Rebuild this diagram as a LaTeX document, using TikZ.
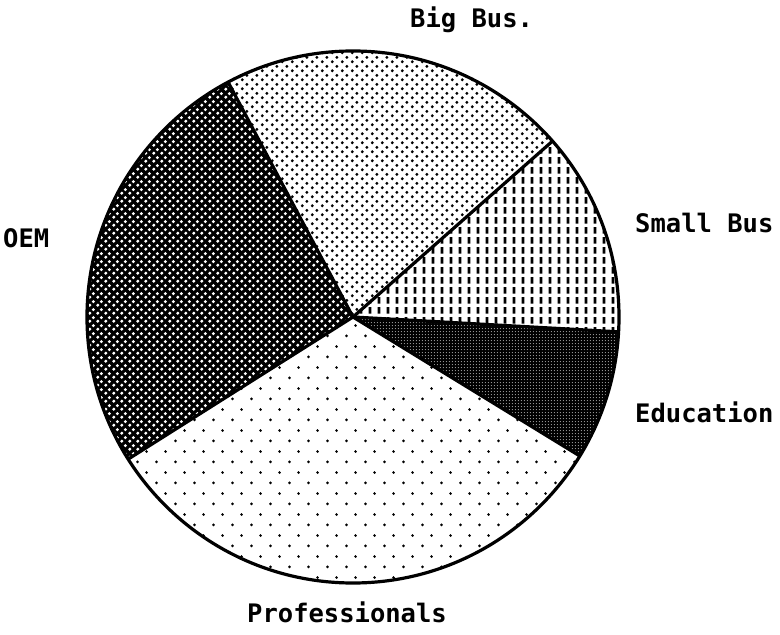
\documentclass[tikz,border=0pt]{standalone}
\usepackage{fontspec}
\setmonofont{DejaVu Sans Mono}
\usetikzlibrary{patterns}
\pgfdeclarepatternformonly{bigbusdots}{\pgfpointorigin}{\pgfqpoint{10pt}{9.4pt}}{\pgfqpoint{10pt}{9.4pt}}{
  \pgfpathcircle{\pgfqpoint{2.5pt}{2.35pt}}{1.7pt}
  \pgfpathcircle{\pgfqpoint{7.5pt}{7.05pt}}{1.7pt}
  \pgfusepath{fill}}
\pgfdeclarepatternformonly{profdots}{\pgfpointorigin}{\pgfqpoint{19pt}{20.8pt}}{\pgfqpoint{19pt}{20.8pt}}{
  \pgfpathcircle{\pgfqpoint{4.75pt}{5.2pt}}{1.5pt}
  \pgfpathcircle{\pgfqpoint{14.25pt}{15.6pt}}{1.5pt}
  \pgfusepath{fill}}
\pgfdeclarepatternformonly{smallbusdash}{\pgfpointorigin}{\pgfqpoint{8.5pt}{10pt}}{\pgfqpoint{8.5pt}{10pt}}{
  \pgfpathrectangle{\pgfqpoint{2.9pt}{1.4pt}}{\pgfqpoint{2.9pt}{7.2pt}}
  \pgfusepath{fill}}
\pgfdeclarepatternformonly{oemholes}{\pgfpointorigin}{\pgfqpoint{8pt}{8pt}}{\pgfqpoint{8pt}{8pt}}{
  \pgfpathmoveto{\pgfqpoint{2pt}{0.1pt}}\pgfpathlineto{\pgfqpoint{3.9pt}{2pt}}
  \pgfpathlineto{\pgfqpoint{2pt}{3.9pt}}\pgfpathlineto{\pgfqpoint{0.1pt}{2pt}}\pgfpathclose
  \pgfpathmoveto{\pgfqpoint{6pt}{4.1pt}}\pgfpathlineto{\pgfqpoint{7.9pt}{6pt}}
  \pgfpathlineto{\pgfqpoint{6pt}{7.9pt}}\pgfpathlineto{\pgfqpoint{4.1pt}{6pt}}\pgfpathclose
  \pgfusepath{fill}}
\pgfdeclarepatternformonly{eduspecks}{\pgfpointorigin}{\pgfqpoint{3.2pt}{3.2pt}}{\pgfqpoint{3.2pt}{3.2pt}}{
  \pgfpathcircle{\pgfqpoint{1.6pt}{1.6pt}}{0.6pt}
  \pgfusepath{fill}}
\tikzstyle{edge} = [line width=3.2pt, line join=round, draw=black]
\tikzstyle{piename} = [anchor=base west, inner sep=0pt, font=\ttfamily\bfseries\fontsize{25.5}{26}\selectfont]
\tikzstyle{darkslice} = [fill=black, postaction={pattern=#1, pattern color=white}]

\begin{document}
\begin{tikzpicture}[x=1pt,y=1pt]
\useasboundingbox (0,0) rectangle (780,635);
\coordinate (centre) at (353,318);

% slices
\fill[pattern=bigbusdots] (centre) -- ++(41.4:266) arc[start angle=41.4, end angle=118, radius=266] -- cycle;
\fill[pattern=smallbusdash] (centre) -- ++(-3.2:266) arc[start angle=-3.2, end angle=41.4, radius=266] -- cycle;
\path[darkslice=eduspecks] (centre) -- ++(-31.5:266) arc[start angle=-31.5, end angle=-3.2, radius=266] -- cycle;
\fill[pattern=profdots] (centre) -- ++(212.3:266) arc[start angle=212.3, end angle=328.5, radius=266] -- cycle;
\path[darkslice=oemholes] (centre) -- ++(118:266) arc[start angle=118, end angle=212.3, radius=266] -- cycle;

% rim points
\path (centre) ++(41.4:266) coordinate (bigsmall);
\path (centre) ++(-3.2:266) coordinate (smalledu);
\path (centre) ++(-31.5:266) coordinate (eduprof);
\path (centre) ++(212.3:266) coordinate (profoem);
\path (centre) ++(118:266) coordinate (oembig);

\draw [edge] (centre) -- (bigsmall);
\draw [edge] (centre) -- (smalledu);
\draw [edge] (centre) -- (eduprof);
\draw [edge] (centre) -- (profoem);
\draw [edge] (centre) -- (oembig);
\draw [edge] (centre) circle[radius=266];

% labels
\node (bigbus) [piename] at (410,607) {Big Bus.};
\node (smallbus) [piename] at (635,402) {Small Bus};
\node (education) [piename] at (635,212) {Education};
\node (oem) [piename] at (3,387) {OEM};
\node (professionals) [piename] at (247,12) {Professionals};
\end{tikzpicture}
\end{document}
